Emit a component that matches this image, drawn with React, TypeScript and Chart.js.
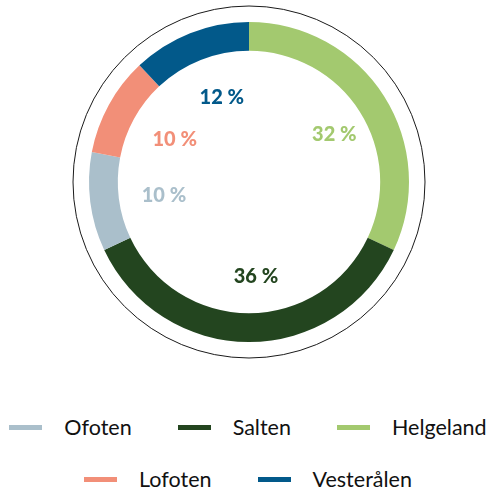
import React, { useEffect, useRef } from "react";
import { Chart, registerables } from "chart.js";

Chart.register(...registerables);

const regions = ["Helgeland", "Salten", "Ofoten", "Lofoten", "Vesterålen"];
const shares = [32, 36, 10, 10, 12];
const colors = ["#A3C96F", "#23451F", "#AABFCB", "#F28F78", "#02598A"];
const legendRow1 = ["Ofoten", "Salten", "Helgeland"];
const legendRow2 = ["Lofoten", "Vesterålen"];

const outerRingPlugin = {
  id: "outerRing",
  afterDatasetsDraw(chart: any) {
    const meta = chart.getDatasetMeta(0);
    const arc = meta.data[0];
    if (!arc) return;
    const { x, y, outerRadius } = arc.getProps(["x", "y", "outerRadius"], true);
    const ctx = chart.ctx;
    ctx.save();
    ctx.beginPath();
    ctx.arc(x, y, outerRadius + 16, 0, Math.PI * 2);
    ctx.lineWidth = 1;
    ctx.strokeStyle = "#1a1a1a";
    ctx.stroke();
    ctx.restore();
  },
};

const valueLabelPlugin = {
  id: "valueLabels",
  afterDatasetsDraw(chart: any) {
    const meta = chart.getDatasetMeta(0);
    const ctx = chart.ctx;
    ctx.save();
    ctx.font = "900 20px Lato";
    ctx.textAlign = "center";
    ctx.textBaseline = "middle";
    meta.data.forEach((el: any, i: number) => {
      const { x, y, startAngle, endAngle, outerRadius } = el.getProps(
        ["x", "y", "startAngle", "endAngle", "outerRadius"],
        true
      );
      const mid = (startAngle + endAngle) / 2;
      const r = outerRadius * 0.58;
      const lx = x + Math.cos(mid) * r + 7;
      const ly = y + Math.sin(mid) * r + 2;
      ctx.fillStyle = colors[i];
      ctx.fillText(`${shares[i]} %`, lx, ly);
    });
    ctx.restore();
  },
};

function LegendRow({ items, top }: { items: string[]; top: number }) {
  return (
    <div
      style={{
        position: "absolute",
        left: 3,
        top,
        width: 490,
        height: 24,
        display: "flex",
        justifyContent: "center",
        alignItems: "center",
        gap: 46,
      }}
    >
      {items.map((name) => {
        const idx = regions.indexOf(name);
        return (
          <div key={name} style={{ display: "flex", alignItems: "center" }}>
            <span
              style={{
                display: "inline-block",
                width: 33,
                height: 5,
                background: colors[idx],
                marginRight: 22,
              }}
            />
            <span
              style={{
                fontFamily: "Lato, sans-serif",
                fontSize: 21.5,
                lineHeight: "24px",
                color: "#111",
                whiteSpace: "nowrap",
              }}
            >
              {name}
            </span>
          </div>
        );
      })}
    </div>
  );
}

export default function App() {
  const canvasRef = useRef<HTMLCanvasElement | null>(null);

  useEffect(() => {
    if (!canvasRef.current) return;
    const chart = new Chart(canvasRef.current, {
      type: "doughnut",
      data: {
        labels: regions,
        datasets: [
          {
            data: shares,
            backgroundColor: colors,
            borderWidth: 0,
          },
        ],
      },
      options: {
        responsive: false,
        animation: false,
        cutout: "82%",
        layout: { padding: { left: 8, right: 0, top: 22, bottom: 22 } },
        plugins: {
          legend: { display: false },
          tooltip: { enabled: false },
        },
      },
      plugins: [outerRingPlugin, valueLabelPlugin],
    });
    return () => chart.destroy();
  }, []);

  return (
    <div
      style={{
        position: "absolute",
        left: 0,
        top: 0,
        width: 490,
        height: 491,
        background: "#fff",
      }}
    >
      <canvas
        ref={canvasRef}
        width={490}
        height={364}
        style={{ position: "absolute", left: 0, top: 0, width: 490, height: 364 }}
      />
      <LegendRow items={legendRow1} top={415} />
      <LegendRow items={legendRow2} top={467} />
    </div>
  );
}
